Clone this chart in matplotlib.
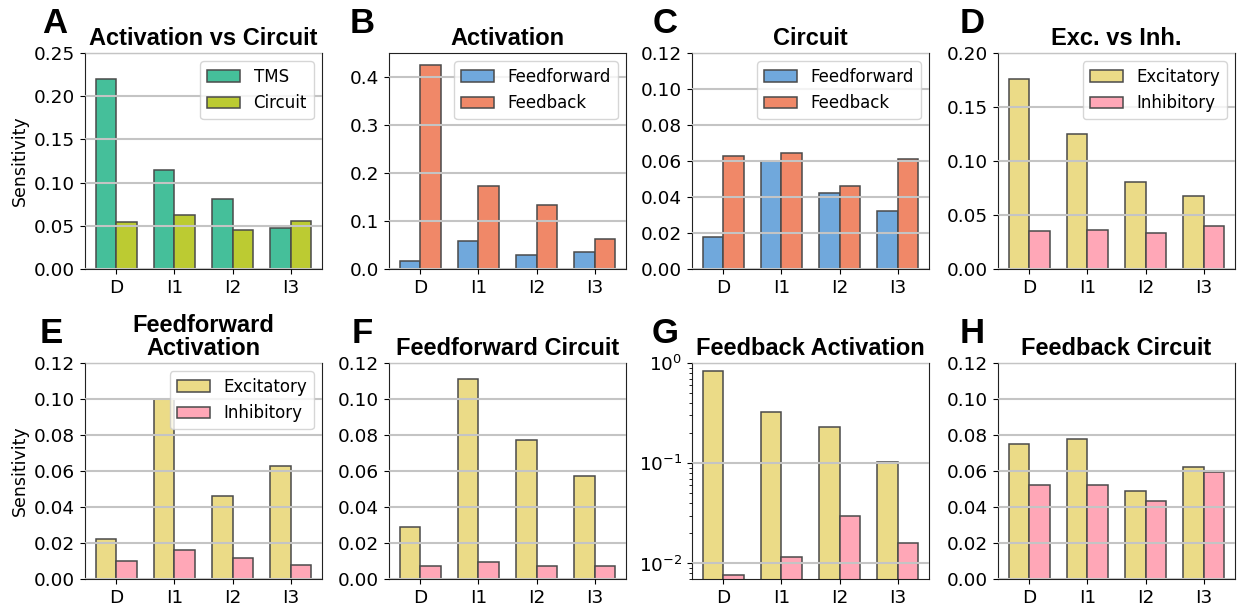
# Sensitivity of D/I-wave generation to model components (8 panels)
import numpy as np
import matplotlib.pyplot as plt
from matplotlib.ticker import MultipleLocator

waves = ['D', 'I1', 'I2', 'I3']

# A: activation vs circuit
tms_sens = [0.220, 0.115, 0.081, 0.048]
circuit_sens = [0.054, 0.063, 0.045, 0.055]
# B: activation, feedforward vs feedback
act_ff = [0.016, 0.059, 0.029, 0.036]
act_fb = [0.425, 0.173, 0.134, 0.062]
# C: circuit, feedforward vs feedback
circ_ff = [0.018, 0.060, 0.042, 0.032]
circ_fb = [0.063, 0.0645, 0.046, 0.061]
# D: excitatory vs inhibitory
exc_all = [0.176, 0.125, 0.081, 0.068]
inh_all = [0.035, 0.036, 0.033, 0.040]
# E: feedforward activation
ff_act_exc = [0.022, 0.100, 0.046, 0.063]
ff_act_inh = [0.0098, 0.016, 0.0115, 0.008]
# F: feedforward circuit
ff_circ_exc = [0.029, 0.111, 0.077, 0.057]
ff_circ_inh = [0.0075, 0.0095, 0.0072, 0.0073]
# G: feedback activation (log scale)
fb_act_exc = [0.83, 0.326, 0.231, 0.103]
fb_act_inh = [0.0077, 0.0115, 0.0297, 0.0161]
# H: feedback circuit
fb_circ_exc = [0.075, 0.078, 0.049, 0.062]
fb_circ_inh = [0.0525, 0.0525, 0.0435, 0.0595]

C_TMS = '#45bf9a'
C_CIRC = '#bccb32'
C_FF = '#70a8dc'
C_FB = '#f08868'
C_EXC = '#ebdb87'
C_INH = '#ffa7b7'

W, H = 1238, 607
fig = plt.figure(figsize=(W / 100, H / 100), dpi=100)

lefts = [85, 389, 692, 998]
aw, ah = 237, 216
tops = [53, 363]


def make_ax(row, col):
    x0 = lefts[col]
    y0 = tops[row] + ah
    return fig.add_axes([x0 / W, (H - y0) / H, aw / W, ah / H])


def bars(ax, a, b, ca, cb, la, lb, ylim, step, title, letter, ylabel=False,
         legend=True, log=False, letter_x=None, letter_y=None):
    x = np.arange(len(waves))
    w = 0.35
    ax.bar(x - w / 2, a, w, color=ca, edgecolor='#4a4a4a', linewidth=1.1,
           label=la)
    ax.bar(x + w / 2, b, w, color=cb, edgecolor='#4a4a4a', linewidth=1.1,
           label=lb)
    if log:
        ax.set_yscale('log')
    else:
        ax.yaxis.set_major_locator(MultipleLocator(step))
    ax.set_ylim(*ylim)
    ax.set_xticks(x)
    ax.set_xticklabels(waves)
    ax.tick_params(labelsize=13.3)
    ax.grid(axis='y', color='#c4c4c4', linewidth=1.5, which='major')
    ax.set_axisbelow(False)
    for s in ax.spines.values():
        s.set_color('#222222')
    ax.set_title(title, fontsize=17, fontweight='bold',
                 family='Liberation Sans', pad=6)
    if ylabel:
        ax.set_ylabel('Sensitivity', fontsize=12.5)
    if legend:
        ax.legend(loc='upper right', fontsize=12, framealpha=0.8)
    fig.text(letter_x / W, 1 - letter_y / H, letter, fontsize=25,
             fontweight='bold', family='Liberation Sans', va='baseline')


ax = make_ax(0, 0)
bars(ax, tms_sens, circuit_sens, C_TMS, C_CIRC, 'TMS', 'Circuit', (0, 0.25),
     0.05, 'Activation vs Circuit', 'A', ylabel=True, letter_x=42, letter_y=33)

ax = make_ax(0, 1)
bars(ax, act_ff, act_fb, C_FF, C_FB, 'Feedforward', 'Feedback', (0, 0.45),
     0.1, 'Activation', 'B', letter_x=350, letter_y=33)

ax = make_ax(0, 2)
bars(ax, circ_ff, circ_fb, C_FF, C_FB, 'Feedforward', 'Feedback', (0, 0.12),
     0.02, 'Circuit', 'C', letter_x=653, letter_y=33)

ax = make_ax(0, 3)
bars(ax, exc_all, inh_all, C_EXC, C_INH, 'Excitatory', 'Inhibitory',
     (0, 0.20), 0.05, 'Exc. vs Inh.', 'D', letter_x=960, letter_y=33)

ax = make_ax(1, 0)
bars(ax, ff_act_exc, ff_act_inh, C_EXC, C_INH, 'Excitatory', 'Inhibitory',
     (0, 0.12), 0.02, 'Feedforward\nActivation', 'E', ylabel=True,
     letter_x=40, letter_y=343)
ax.title.set_linespacing(1.0)

ax = make_ax(1, 1)
bars(ax, ff_circ_exc, ff_circ_inh, C_EXC, C_INH, 'Excitatory', 'Inhibitory',
     (0, 0.12), 0.02, 'Feedforward Circuit', 'F', legend=False,
     letter_x=352, letter_y=343)

ax = make_ax(1, 2)
bars(ax, fb_act_exc, fb_act_inh, C_EXC, C_INH, 'Excitatory', 'Inhibitory',
     (0.007, 1.0), None, 'Feedback Activation', 'G', legend=False, log=True,
     letter_x=652, letter_y=343)

ax = make_ax(1, 3)
bars(ax, fb_circ_exc, fb_circ_inh, C_EXC, C_INH, 'Excitatory', 'Inhibitory',
     (0, 0.12), 0.02, 'Feedback Circuit', 'H', legend=False,
     letter_x=960, letter_y=343)

fig.savefig('out.png', dpi=100)
